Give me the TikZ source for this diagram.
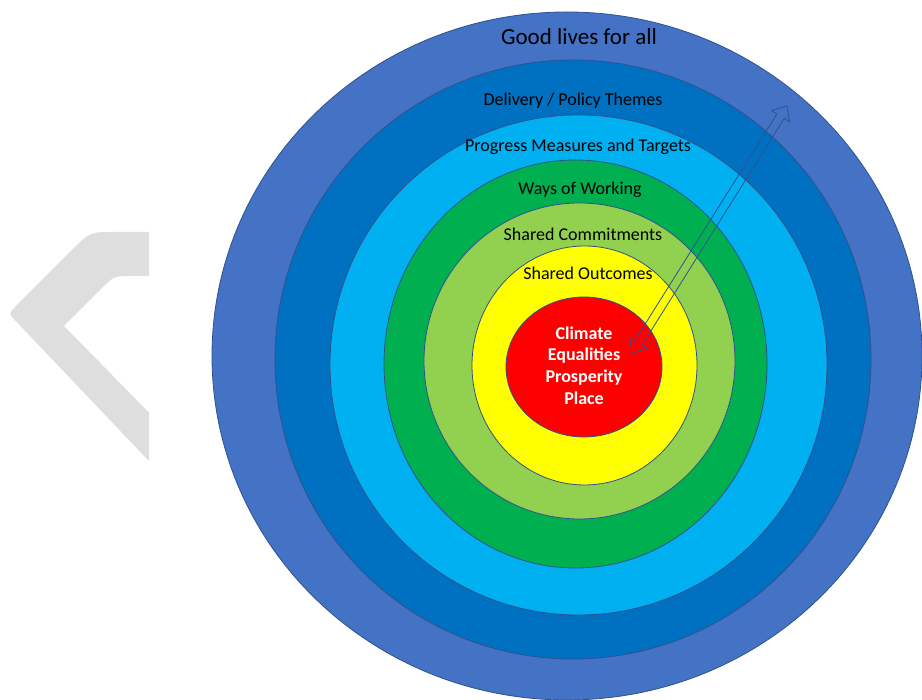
\documentclass[tikz,border=0pt]{standalone}
\usepackage{fontspec}
\setmainfont{Carlito}
\usetikzlibrary{shapes.geometric}

\definecolor{ringgood}{HTML}{4472C4}
\definecolor{ringdelivery}{HTML}{0070C0}
\definecolor{ringprogress}{HTML}{00B0F0}
\definecolor{ringways}{HTML}{00B050}
\definecolor{ringshared}{HTML}{92D050}
\definecolor{ringoutcome}{HTML}{FFFF00}
\definecolor{ringcore}{HTML}{FF0000}
\definecolor{rimline}{HTML}{2F528F}
\definecolor{logogrey}{HTML}{DEDEDE}

\tikzset{
  ring/.style={ellipse, draw=rimline, line width=0.8pt, inner sep=0pt},
  ringlabel/.style={font=\fontsize{18}{22}\selectfont, text=black, inner sep=0pt, anchor=base},
}

\begin{document}
\begin{tikzpicture}[x=1pt, y=1pt]
    \useasboundingbox (0,0) rectangle (922,700);

    % Logo fragment
    \begin{scope}
        \clip (0,0) rectangle (149,700);
        \fill[logogrey] (160,468) -- (115,468) .. controls (90,468) .. (72.3,450.3)
            -- (15.6,393.6) .. controls (8.5,386.5) .. (15.4,379.3)
            -- (160,227.4) -- (160,276) -- (64,374)
            -- (101.3,411.3) .. controls (114,424) .. (132,424) -- (160,424) -- cycle;
    \end{scope}

    % Rings
    \node[ring, fill=ringgood, minimum width=710pt, minimum height=688pt] (good) at (567,344) {};
    \node[ring, fill=ringdelivery, minimum width=596pt, minimum height=599pt] (delivery) at (573,340.5) {};
    \node[ring, fill=ringprogress, minimum width=497pt, minimum height=500pt] (progress) at (578.5,335) {};
    \node[ring, fill=ringways, minimum width=383pt, minimum height=408pt] (ways) at (575.5,336) {};
    \node[ring, fill=ringshared, minimum width=311pt, minimum height=316pt] (shared) at (579.5,339) {};
    \node[ring, fill=ringoutcome, minimum width=225pt, minimum height=239pt] (outcome) at (584.5,334.5) {};
    \node[ring, fill=ringcore, minimum width=156pt, minimum height=140pt] (core) at (584,333) {};

    % Labels
    \node[ringlabel, font=\fontsize{23}{28}\selectfont] (goodtext) at (579,655) {Good lives for all};
    \node[ringlabel] (deliverytext) at (573,594) {Delivery / Policy Themes};
    \node[ringlabel] (progresstext) at (578,548) {Progress Measures and Targets};
    \node[ringlabel] (waystext) at (580,505.5) {Ways of Working};
    \node[ringlabel] (sharedtext) at (583,459.5) {Shared Commitments};
    \node[ringlabel] (outcometext) at (588,420) {Shared Outcomes};
    \node[ringlabel, text=white, font=\fontsize{18}{21.7}\selectfont\bfseries, align=center]
        (coretext) at (584,295.7) {Climate\\Equalities\\Prosperity\\Place};

    % Arrow (outlined, two heads)
    \begin{scope}[shift={(709.5,470.5)}, rotate=57.9]
        \draw[rimline, line width=0.8pt, line join=miter]
            (-145.8,0) -- (-133.8,10.5) -- (-133.8,4.25) -- (133.8,4.25) -- (133.8,10.5)
            -- (145.8,0) -- (133.8,-10.5) -- (133.8,-4.25) -- (-133.8,-4.25)
            -- (-133.8,-10.5) -- cycle;
    \end{scope}
\end{tikzpicture}
\end{document}
